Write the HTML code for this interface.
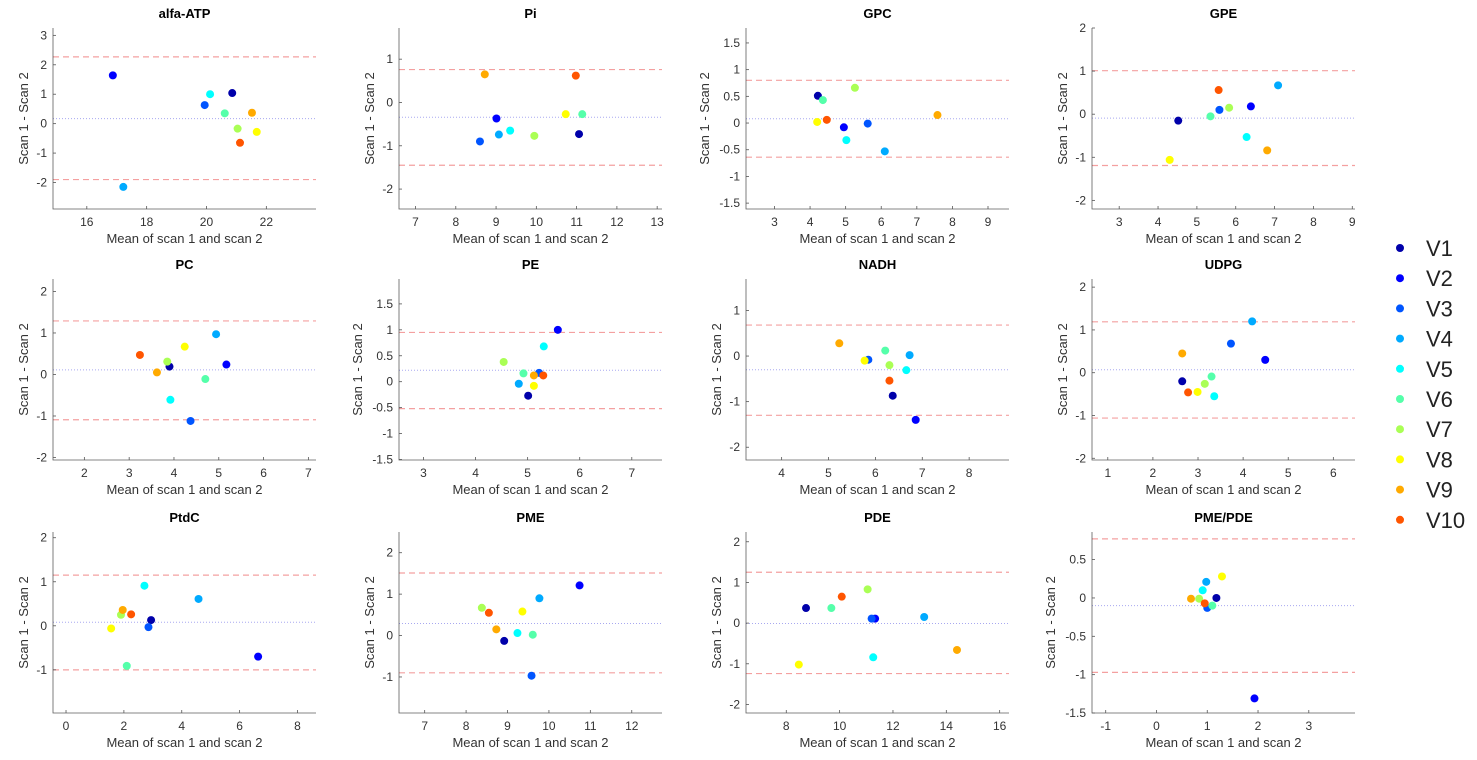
<!DOCTYPE html>
<html><head><meta charset="utf-8"><style>
html,body{margin:0;padding:0;background:#fff;}
svg{display:block;font-family:"Liberation Sans",Arial,sans-serif;}
</style></head><body>
<svg id="fig" width="1477" height="760" viewBox="0 0 1477 760" xmlns="http://www.w3.org/2000/svg"></svg>
<script>
const subjects = ["V1","V2","V3","V4","V5","V6","V7","V8","V9","V10"];
const colors = ["#0000aa","#0000ff","#0055ff","#00aaff","#00ffff","#55ffaa","#aaff55","#ffff00","#ffaa00","#ff5500"];

const alfaX = [20.86,16.87,19.94,17.22,20.12,20.61,21.04,21.68,21.52,21.12];
const alfaY = [1.04,1.64,0.63,-2.15,1.0,0.35,-0.17,-0.28,0.37,-0.65];
const alfaLines = [2.27,0.17,-1.9];
const piX = [11.06,9.01,8.6,9.07,9.35,11.14,9.95,10.73,8.72,10.98];
const piY = [-0.73,-0.37,-0.9,-0.74,-0.65,-0.27,-0.77,-0.27,0.65,0.62];
const piLines = [0.76,-0.34,-1.45];
const gpcX = [4.22,4.95,5.62,6.1,5.02,4.36,5.26,4.2,7.58,4.47];
const gpcY = [0.51,-0.08,-0.01,-0.53,-0.32,0.43,0.66,0.02,0.15,0.06];
const gpcLines = [0.80,0.08,-0.64];
const gpeX = [4.52,6.39,5.58,7.09,6.28,5.35,5.83,4.3,6.81,5.56];
const gpeY = [-0.15,0.18,0.10,0.67,-0.53,-0.05,0.15,-1.06,-0.84,0.56];
const gpeLines = [1.01,-0.09,-1.19];
const pcX = [3.9,5.17,4.37,4.94,3.92,4.7,3.85,4.24,3.62,3.24];
const pcY = [0.19,0.24,-1.12,0.97,-0.61,-0.11,0.31,0.67,0.05,0.47];
const pcLines = [1.29,0.11,-1.09];
const peX = [5.01,5.58,5.22,4.83,5.31,4.92,4.54,5.12,5.12,5.3];
const peY = [-0.27,1.0,0.17,-0.04,0.68,0.16,0.38,-0.08,0.12,0.12];
const peLines = [0.95,0.22,-0.52];
const nadhX = [6.37,6.86,5.85,6.73,6.66,6.21,6.3,5.77,5.23,6.3];
const nadhY = [-0.87,-1.40,-0.08,0.02,-0.31,0.12,-0.2,-0.1,0.28,-0.54];
const nadhLines = [0.68,-0.3,-1.3];
const udpgX = [2.65,4.49,3.73,4.2,3.36,3.3,3.15,2.99,2.65,2.78];
const udpgY = [-0.2,0.3,0.68,1.2,-0.55,-0.09,-0.26,-0.45,0.45,-0.46];
const udpgLines = [1.19,0.07,-1.06];
const ptdcX = [2.94,6.64,2.85,4.58,2.71,2.1,1.9,1.56,1.96,2.25];
const ptdcY = [0.13,-0.70,-0.03,0.61,0.91,-0.91,0.25,-0.06,0.36,0.26];
const ptdcLines = [1.15,0.08,-1.0];
const pmeX = [8.92,10.74,9.58,9.77,9.24,9.61,8.38,9.36,8.73,8.55];
const pmeY = [-0.13,1.21,-0.97,0.9,0.06,0.02,0.67,0.58,0.15,0.55];
const pmeLines = [1.51,0.29,-0.9];
const pdeX = [8.74,11.33,11.2,13.17,11.26,9.69,11.05,8.47,14.4,10.08];
const pdeY = [0.37,0.11,0.11,0.15,-0.84,0.37,0.83,-1.02,-0.66,0.65];
const pdeLines = [1.25,-0.01,-1.24];
const ratioX = [1.18,1.93,1.0,0.98,0.91,1.1,0.84,1.29,0.68,0.95];
const ratioY = [0.0,-1.31,-0.13,0.21,0.10,-0.10,-0.01,0.28,-0.01,-0.07];
const ratioLines = [0.77,-0.10,-0.97];

const alfaXTicks=[16,18,20,22], alfaYTicks=[-2,-1,0,1,2,3];
const piXTicks=[7,8,9,10,11,12,13], piYTicks=[-2,-1,0,1];
const gpcXTicks=[3,4,5,6,7,8,9], gpcYTicks=[-1.5,-1,-0.5,0,0.5,1,1.5];
const gpeXTicks=[3,4,5,6,7,8,9], gpeYTicks=[-2,-1,0,1,2];
const pcXTicks=[2,3,4,5,6,7], pcYTicks=[-2,-1,0,1,2];
const peXTicks=[3,4,5,6,7], peYTicks=[-1.5,-1,-0.5,0,0.5,1,1.5];
const nadhXTicks=[4,5,6,7,8], nadhYTicks=[-2,-1,0,1];
const udpgXTicks=[1,2,3,4,5,6], udpgYTicks=[-2,-1,0,1,2];
const ptdcXTicks=[0,2,4,6,8], ptdcYTicks=[-1,0,1,2];
const pmeXTicks=[7,8,9,10,11,12], pmeYTicks=[-1,0,1,2];
const pdeXTicks=[8,10,12,14,16], pdeYTicks=[-2,-1,0,1,2];
const ratioXTicks=[-1,0,1,2,3], ratioYTicks=[-1.5,-1,-0.5,0,0.5];

const panels = [
 {name:"alfa-ATP",slug:"alfa-atp",col:0,row:0,xs:alfaX,ys:alfaY,lines:alfaLines,xl:[14.87,23.66],yl:[-2.9,3.25],xt:alfaXTicks,yt:alfaYTicks},
 {name:"Pi",slug:"pi",col:1,row:0,xs:piX,ys:piY,lines:piLines,xl:[6.59,13.12],yl:[-2.46,1.72],xt:piXTicks,yt:piYTicks},
 {name:"GPC",slug:"gpc",col:2,row:0,xs:gpcX,ys:gpcY,lines:gpcLines,xl:[2.2,9.59],yl:[-1.61,1.78],xt:gpcXTicks,yt:gpcYTicks},
 {name:"GPE",slug:"gpe",col:3,row:0,xs:gpeX,ys:gpeY,lines:gpeLines,xl:[2.3,9.07],yl:[-2.2,2.0],xt:gpeXTicks,yt:gpeYTicks},
 {name:"PC",slug:"pc",col:0,row:1,xs:pcX,ys:pcY,lines:pcLines,xl:[1.3,7.17],yl:[-2.06,2.3],xt:pcXTicks,yt:pcYTicks},
 {name:"PE",slug:"pe",col:1,row:1,xs:peX,ys:peY,lines:peLines,xl:[2.53,7.58],yl:[-1.51,1.98],xt:peXTicks,yt:peYTicks},
 {name:"NADH",slug:"nadh",col:2,row:1,xs:nadhX,ys:nadhY,lines:nadhLines,xl:[3.24,8.85],yl:[-2.28,1.69],xt:nadhXTicks,yt:nadhYTicks},
 {name:"UDPG",slug:"udpg",col:3,row:1,xs:udpgX,ys:udpgY,lines:udpgLines,xl:[0.65,6.48],yl:[-2.04,2.19],xt:udpgXTicks,yt:udpgYTicks},
 {name:"PtdC",slug:"ptdc",col:0,row:2,xs:ptdcX,ys:ptdcY,lines:ptdcLines,xl:[-0.45,8.64],yl:[-1.98,2.13],xt:ptdcXTicks,yt:ptdcYTicks},
 {name:"PME",slug:"pme",col:1,row:2,xs:pmeX,ys:pmeY,lines:pmeLines,xl:[6.38,12.73],yl:[-1.87,2.5],xt:pmeXTicks,yt:pmeYTicks},
 {name:"PDE",slug:"pde",col:2,row:2,xs:pdeX,ys:pdeY,lines:pdeLines,xl:[6.49,16.35],yl:[-2.21,2.24],xt:pdeXTicks,yt:pdeYTicks},
 {name:"PME/PDE",slug:"pme-pde",col:3,row:2,xs:ratioX,ys:ratioY,lines:ratioLines,xl:[-1.27,3.91],yl:[-1.5,0.86],xt:ratioXTicks,yt:ratioYTicks}
];

const NS="http://www.w3.org/2000/svg";
const svg=document.getElementById("fig");
const colLeft=[53,399,746,1092], rowTop=[28,279,532], W=263, H=181;
function mk(tag,attrs,parent){const e=document.createElementNS(NS,tag);for(const k in attrs)e.setAttribute(k,attrs[k]);parent.appendChild(e);return e;}
function fmt(v){return String(v);}

panels.forEach(p=>{
  const L=colLeft[p.col], T=rowTop[p.row], B=T+H, R=L+W;
  const sx=v=>L+(v-p.xl[0])/(p.xl[1]-p.xl[0])*W;
  const sy=v=>B-(v-p.yl[0])/(p.yl[1]-p.yl[0])*H;
  const g=mk("g",{},svg);
  
  
  const t=mk("text",{x:L+W/2,y:T-10,"text-anchor":"middle","font-size":"13","font-weight":"bold",fill:"#000"},g);
  t.textContent=p.name;
  
  
  const up=mk("line",{x1:L,x2:R,y1:sy(p.lines[0]),y2:sy(p.lines[0]),stroke:"#f4a0a0","stroke-width":"1.2","stroke-dasharray":"6,4"},g);
  
  
  const mn=mk("line",{x1:L,x2:R,y1:sy(p.lines[1]),y2:sy(p.lines[1]),stroke:"#a8a8f0","stroke-width":"1","stroke-dasharray":"1,2"},g);
  
  
  const lo=mk("line",{x1:L,x2:R,y1:sy(p.lines[2]),y2:sy(p.lines[2]),stroke:"#f4a0a0","stroke-width":"1.2","stroke-dasharray":"6,4"},g);
  
  
  const ax=mk("path",{d:`M${L},${T}V${B}H${R}`,fill:"none",stroke:"#262626","stroke-width":"0.8",opacity:"0.75"},g);
  
  
  p.xt.forEach(v=>{
    const x=sx(v);
    mk("line",{x1:x,x2:x,y1:B,y2:B-3,stroke:"#555","stroke-width":"0.8"},g);
    const tl=mk("text",{x:x,y:B+17,"text-anchor":"middle","font-size":"12",fill:"#333"},g);
    tl.textContent=fmt(v);
    
    
  });
  let maxChars=0;
  p.yt.forEach(v=>{
    const y=sy(v);
    maxChars=Math.max(maxChars,fmt(v).length);
    mk("line",{x1:L,x2:L+3,y1:y,y2:y,stroke:"#555","stroke-width":"0.8"},g);
    const tl=mk("text",{x:L-6,y:y+4,"text-anchor":"end","font-size":"12",fill:"#333"},g);
    tl.textContent=fmt(v);
    
    
  });
  const xl=mk("text",{x:L+W/2,y:B+34,"text-anchor":"middle","font-size":"13",fill:"#333"},g);
  xl.textContent="Mean of scan 1 and scan 2";
  
  
  const yx=L-(13+maxChars*6), yy=T+H/2;
  const yl=mk("text",{x:yx,y:yy,"text-anchor":"middle","font-size":"13",fill:"#333",transform:`rotate(-90 ${yx} ${yy})`},g);
  yl.textContent="Scan 1 - Scan 2";
  
  
  p.xs.forEach((v,i)=>{
    const c=mk("circle",{cx:sx(v),cy:sy(p.ys[i]),r:"4",fill:colors[i]},g);
    
    
  });
});

const lg=mk("g",{},svg);


subjects.forEach((s,i)=>{
  const y=248+i*30.2;
  const d=mk("circle",{cx:1400,cy:y,r:"4",fill:colors[i]},lg);
  
  
  const t=mk("text",{x:1426,y:y+8,"font-size":"22",fill:"#222"},lg);
  t.textContent=s;
  
  
});
</script>
</body></html>
